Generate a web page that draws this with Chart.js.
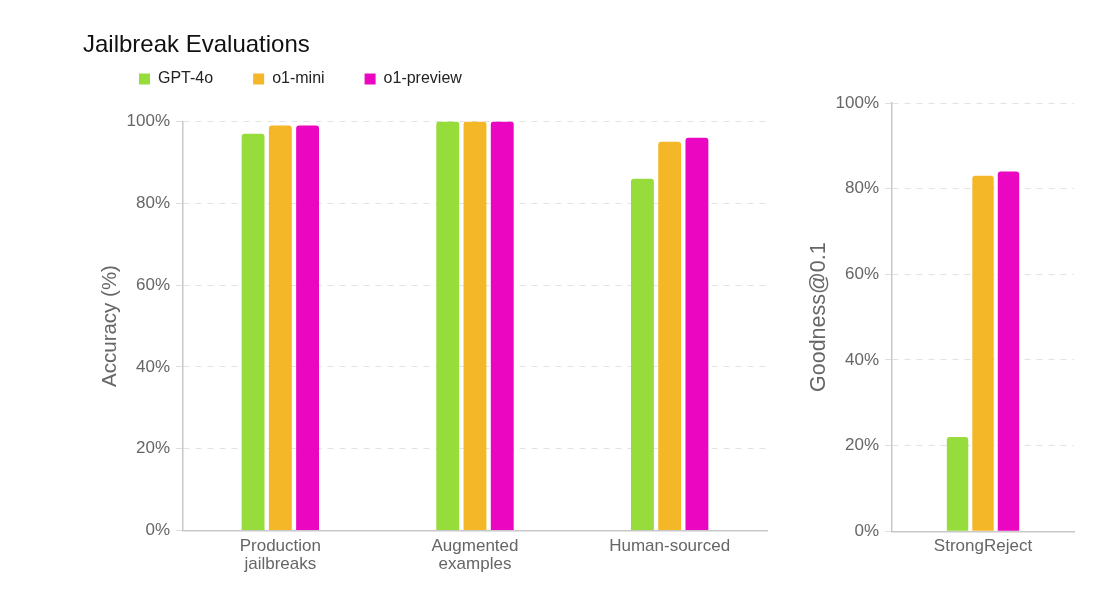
<!DOCTYPE html>
<html>
<head>
<meta charset="utf-8">
<script src="https://cdn.jsdelivr.net/npm/chart.js@4.4.1/dist/chart.umd.min.js"></script>
<style>
  html, body { margin: 0; padding: 0; background: #fff; }
  #wrap { position: relative; width: 1106px; height: 601px; }
  #leftBox { position: absolute; left: 0; top: 0; width: 790px; height: 601px; }
  #rightBox { position: absolute; left: 790px; top: 0; width: 316px; height: 601px; }
</style>
</head>
<body>
<div id="wrap">
  <div id="leftBox"><canvas id="leftChart"></canvas></div>
  <div id="rightBox"><canvas id="rightChart"></canvas></div>
</div>
<script>
// data
var models = ["GPT-4o", "o1-mini", "o1-preview"];
var colors = ["#96dc3a", "#f4b728", "#eb06c2"];
var accCategories = [["Production", "jailbreaks"], ["Augmented", "examples"], "Human-sourced"];
var accGpt4o = [97, 100, 86];
var accO1mini = [99, 100, 95];
var accO1preview = [99, 100, 96];
var srCategories = ["StrongReject"];
var srGpt4o = [22];
var srO1mini = [83];
var srO1preview = [84];

var fontFamily = "'Liberation Sans', Arial, sans-serif";
Chart.defaults.font.family = fontFamily;
Chart.defaults.animation = false;

function makeSets(a, b, c) {
  return [a, b, c].map(function(vals, i) {
    return {
      label: models[i],
      data: vals,
      backgroundColor: colors[i],
      borderRadius: 3,
      borderSkipped: "bottom",
      barPercentage: 0.84,
      categoryPercentage: 0.42
    };
  });
}

function yScale(title, width, padTop, titleSize) {
  return {
    min: 0,
    max: 100,
    afterFit: function(s) { s.width = width; },
    ticks: {
      stepSize: 20,
      padding: 6,
      color: "#666",
      font: { size: 17 },
      callback: function(v) { return v + "%"; }
    },
    grid: {
      color: "#e2e2e2",
      tickColor: "#dddddd",
      tickLength: 7,
      tickBorderDash: [],
      lineWidth: 1
    },
    border: { color: "#c8c8c8", width: 1.5, dash: [6, 6] },
    title: {
      display: true,
      text: title,
      color: "#666",
      font: { size: titleSize },
      padding: { top: padTop, bottom: 0 }
    }
  };
}

function xScale() {
  return {
    grid: { display: false, drawTicks: false },
    border: { color: "#c8c8c8", width: 1.5 },
    ticks: { color: "#666", font: { size: 17, lineHeight: 1.1 }, padding: 6, maxRotation: 0 }
  };
}

var legendPad = 40;
// move legend row to where it sits in the picture
var legendShift = {
  id: "legendShift",
  afterLayout: function(chart) {
    var lg = chart.legend;
    if (!lg) return;
    var dx = 139 - legendPad - lg.left;
    lg.left += dx; lg.right += dx;
    var dy = 79 - legendPad - 8 - lg.top;
    lg.top += dy; lg.bottom += dy;
  }
};

new Chart(document.getElementById("leftChart"), {
  type: "bar",
  data: { labels: accCategories, datasets: makeSets(accGpt4o, accO1mini, accO1preview) },
  options: {
    responsive: true,
    maintainAspectRatio: false,
    layout: { padding: { left: 83, right: 23, top: 32, bottom: 21 } },
    scales: { x: xScale(), y: yScale("Accuracy (%)", 100, 15, 20.5) },
    plugins: {
      title: {
        display: true,
        text: "Jailbreak Evaluations",
        align: "start",
        color: "#111",
        font: { size: 24, weight: "normal", lineHeight: 1.1 },
        padding: { top: 0, bottom: -3 }
      },
      legend: {
        align: "start",
        labels: {
          boxWidth: 11,
          boxHeight: 11,
          padding: legendPad,
          color: "#222",
          font: { size: 16 }
        }
      },
      tooltip: { enabled: false }
    }
  },
  plugins: [legendShift]
});

new Chart(document.getElementById("rightChart"), {
  type: "bar",
  data: { labels: srCategories, datasets: makeSets(srGpt4o, srO1mini, srO1preview) },
  options: {
    responsive: true,
    maintainAspectRatio: false,
    layout: { padding: { left: 5, right: 32, top: 103, bottom: 39 } },
    scales: { x: xScale(), y: yScale("Goodness@0.1", 97, 11, 21.5) },
    plugins: { legend: { display: false }, tooltip: { enabled: false } }
  }
});
</script>
</body>
</html>
